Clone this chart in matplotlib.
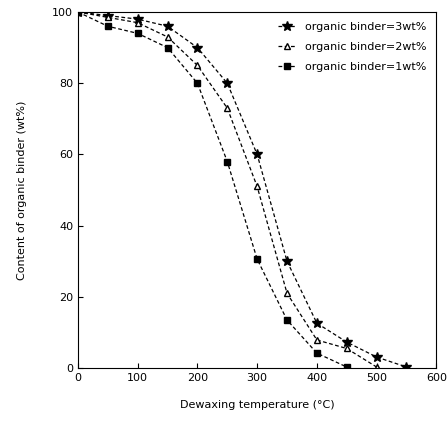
import numpy as np
import matplotlib.pyplot as plt

# dewaxing temperature (°C)
temp = [0, 50, 100, 150, 200, 250, 300, 350, 400, 450, 500, 550]

# residual organic binder content (wt%)
binder_3wt = [100, 99, 98, 96, 90, 80, 60, 30, 12.6, 7.3, 3.1, 0.3]
binder_2wt = [100, 98.5, 97, 93, 85, 73, 51, 21, 7.9, 5.5, 0.3]
binder_1wt = [100, 96, 94, 90, 80, 58, 30.6, 13.5, 4.2, 0.3]

fig = plt.figure(figsize=(4.48, 4.29), dpi=100)
ax = fig.add_axes([0.174, 0.142, 0.80, 0.83])

ls = (0, (3, 2))
ax.plot(temp, binder_3wt, color='black', lw=0.9, ls=ls, marker='*', ms=7,
        label='organic binder=3wt%')
ax.plot(temp[:len(binder_2wt)], binder_2wt, color='black', lw=0.9, ls=ls,
        marker='^', ms=5, mfc='white', mec='black', label='organic binder=2wt%')
ax.plot(temp[:len(binder_1wt)], binder_1wt, color='black', lw=0.9, ls=ls,
        marker='s', ms=5, label='organic binder=1wt%')

ax.set_xlim(0, 600)
ax.set_ylim(0, 100)
ax.set_xticks(np.arange(0, 601, 100))
ax.set_yticks(np.arange(0, 101, 20))
ax.tick_params(direction='in', labelsize=8)
ax.set_xlabel('Dewaxing temperature (°C)', fontsize=8, labelpad=12)
ax.set_ylabel('Content of organic binder (wt%)', fontsize=8, labelpad=18)

ax.legend(loc='upper right', frameon=False, fontsize=8, handlelength=1.6,
          borderaxespad=0.5, labelspacing=0.9)

fig.savefig('out.png', dpi=100)
